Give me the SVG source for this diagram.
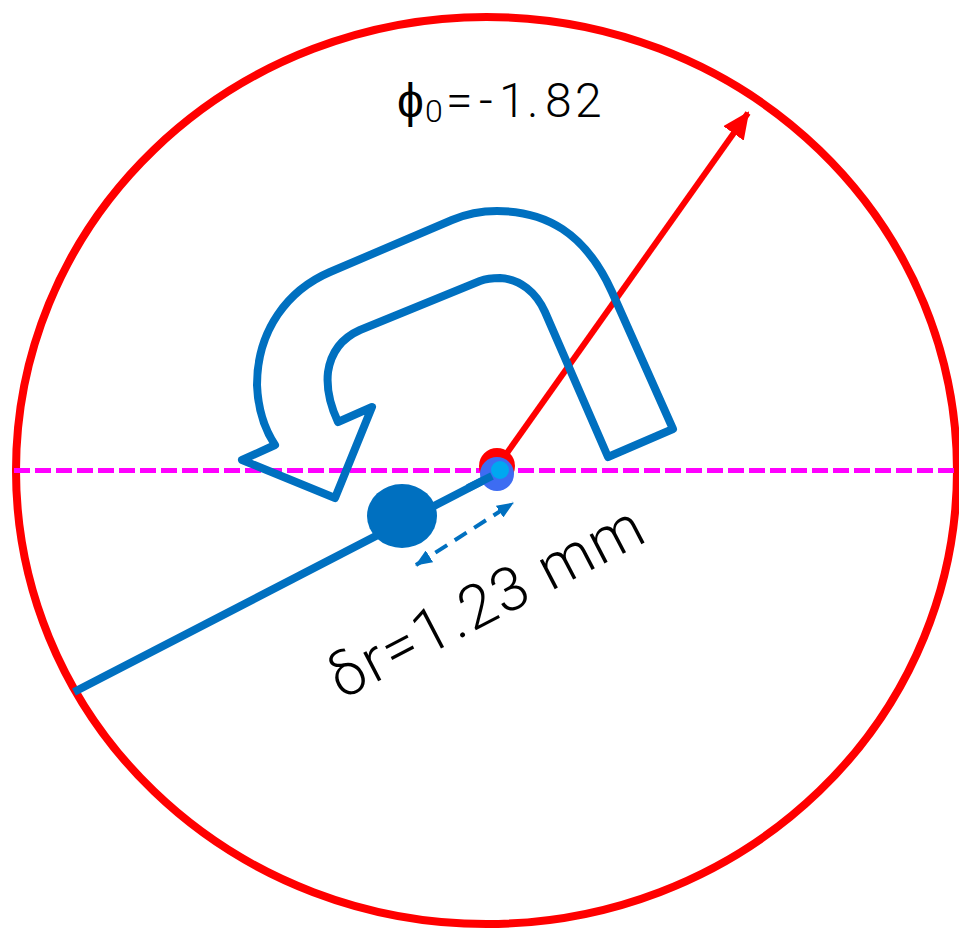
<svg xmlns="http://www.w3.org/2000/svg" width="959" height="929" viewBox="0 0 959 929">
<style>
.lbl{font-family:Roboto,"Liberation Sans",sans-serif;font-weight:300;fill:#000}
.blue{stroke:#0070c0;fill:none;stroke-width:8}
</style>
<defs>
<marker id="redHead" markerUnits="userSpaceOnUse" markerWidth="27" markerHeight="25" viewBox="0 0 27 25" refX="25" refY="12.5" orient="auto">
<path d="M0,0 L27,12.5 L0,25 Z" fill="#ff0000"/>
</marker>
<marker id="blueHead" markerUnits="userSpaceOnUse" markerWidth="17" markerHeight="14" viewBox="0 0 17 14" refX="16" refY="7" orient="auto-start-reverse">
<path d="M0,0 L17,7 L0,14 Z" fill="#0070c0"/>
</marker>
</defs>
<rect width="959" height="929" fill="#fff"/>
<g id="boundary">
<ellipse cx="486.5" cy="470.5" rx="470.5" ry="453.5" fill="none" stroke="#ff0000" stroke-width="8"/>
</g>
<g id="connectors">
<line x1="14" y1="470.5" x2="959" y2="470.5" stroke="#ff00ff" stroke-width="5" stroke-dasharray="16 5"/>
<line x1="497" y1="467" x2="748" y2="113" stroke="#ff0000" stroke-width="6" marker-end="url(#redHead)"/>
<line x1="74" y1="692" x2="492" y2="476" stroke="#0070c0" stroke-width="8"/>
<line x1="416" y1="565" x2="513" y2="503" stroke="#0070c0" stroke-width="4" stroke-dasharray="14 9" marker-start="url(#blueHead)" marker-end="url(#blueHead)"/>
</g>
<g id="rotation-arrow">
<path class="blue" stroke-linejoin="round" d="M673,429 L612,292 C585,232 545,211 497,211 C482,211 466,214 452,220 L330,272 C288,290 257,330 257,385 C258,410 265,430 275,445 L242,460 L335,498 L372,407 L338,422 C330,405 326,390 328,372 C331,352 342,338 360,330 L480,281 C488,278 493,278 500,278 C520,279 536,292 545,312 L608,457 Z"/>
</g>
<g id="vertex">
<ellipse cx="402" cy="516" rx="35" ry="32" fill="#0070c0"/>
</g>
<g id="origin">
<circle cx="497" cy="466" r="18" fill="#ff0000"/>
<circle cx="497" cy="474" r="17" fill="#3d6cf2"/>
<circle cx="500" cy="470" r="9" fill="#00a8f0"/>
<line x1="468" y1="488" x2="492" y2="476" stroke="#0070c0" stroke-width="8"/>
</g>
<g id="labels">
<text class="lbl" y="117" font-size="48"><tspan x="397">ϕ</tspan><tspan x="425" y="122" font-size="32">0</tspan><tspan x="446" y="117">=</tspan><tspan x="479">-</tspan><tspan x="499">1</tspan><tspan x="527">.</tspan><tspan x="545">8</tspan><tspan x="575">2</tspan></text>
<text class="lbl" x="342" y="700" font-size="61" letter-spacing="2" transform="rotate(-27.5 342 700)">δr=1.23 mm</text>
</g>
</svg>
